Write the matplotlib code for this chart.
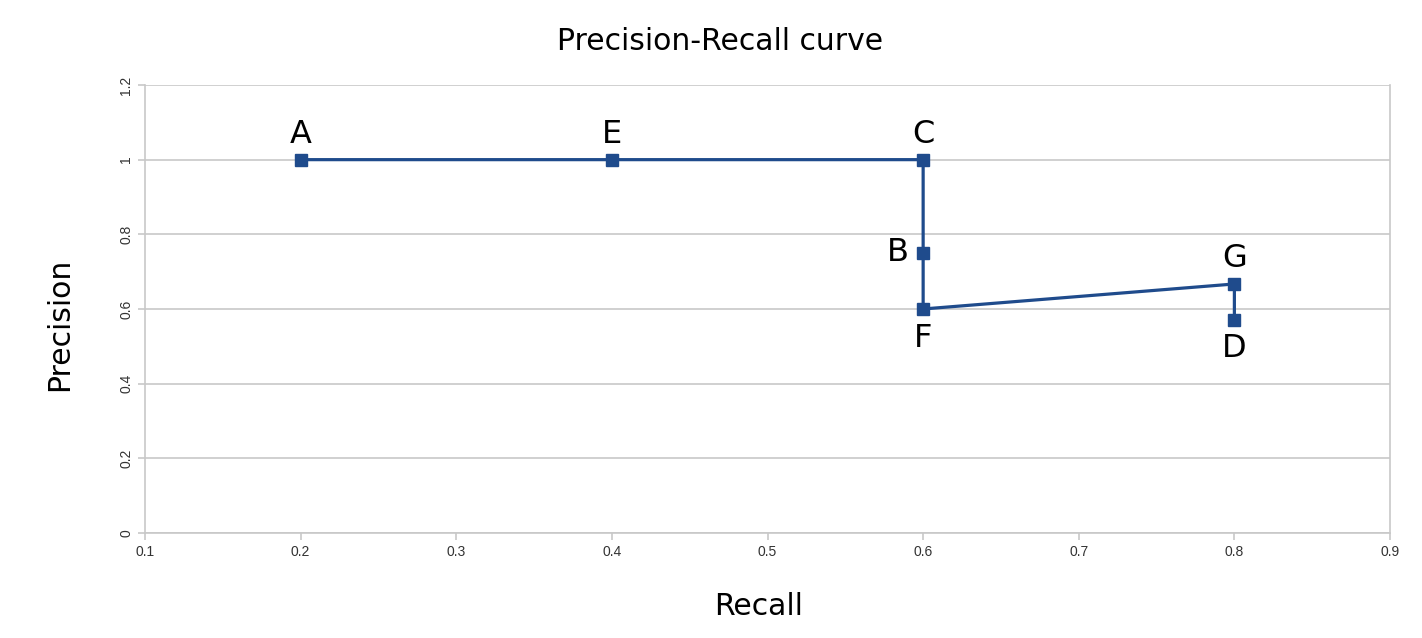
import matplotlib.pyplot as plt

# Data points in curve order
names = ['A', 'E', 'C', 'B', 'F', 'G', 'D']
recall = [0.2, 0.4, 0.6, 0.6, 0.6, 0.8, 0.8]
precision = [1.0, 1.0, 1.0, 0.75, 0.6, 0.667, 0.571]
# where each letter sits relative to its point
label_side = ['top', 'top', 'top', 'left', 'bottom', 'top', 'bottom']

xticks = [0.1, 0.2, 0.3, 0.4, 0.5, 0.6, 0.7, 0.8, 0.9]
yticks = [0, 0.2, 0.4, 0.6, 0.8, 1, 1.2]
ytick_labels = ['0', '0.2', '0.4', '0.6', '0.8', '1', '1.2']

line_color = '#1f4b8c'
grid_color = '#c8c8c8'

fig = plt.figure(figsize=(14.22, 6.38), dpi=100)
ax = fig.add_axes([0.102, 0.1646, 0.8755, 0.7022])

ax.plot(recall, precision, color=line_color, linewidth=2.3,
        marker='s', markersize=8.5, zorder=3)

offsets = {'top': (0, 18), 'bottom': (0, -21), 'left': (-18, 0)}
for n, x, y, side in zip(names, recall, precision, label_side):
    dx, dy = offsets[side]
    ax.annotate(n, (x, y), xytext=(dx, dy), textcoords='offset points',
                ha='center', va='center', fontsize=23, family='DejaVu Sans')

ax.set_xlim(0.1, 0.9)
ax.set_ylim(0, 1.2)
ax.set_xticks(xticks)
ax.set_xticklabels([str(t) for t in xticks], fontsize=10, family='Liberation Sans')
ax.set_yticks(yticks)
ax.set_yticklabels(ytick_labels, fontsize=10, family='Liberation Sans',
                   rotation=90, va='center')
ax.tick_params(axis='both', colors=grid_color, labelcolor='#333333',
               length=5, width=1.2)
ax.grid(axis='y', color=grid_color, linewidth=1.2)
ax.set_axisbelow(True)
for s in ax.spines.values():
    s.set_color(grid_color)
    s.set_linewidth(1.2)
ax.spines['top'].set_visible(False)

fig.suptitle('Precision-Recall curve', fontsize=21.5, family='DejaVu Sans',
             x=0.5063, y=0.9357, va='center')
ax.set_xlabel('Recall', fontsize=21.5, family='DejaVu Sans')
ax.xaxis.set_label_coords(0.4924, -0.131)
ax.set_ylabel('Precision', fontsize=21.5, family='DejaVu Sans')
ax.yaxis.set_label_coords(-0.0568, 0.466)

fig.savefig('out.png')
